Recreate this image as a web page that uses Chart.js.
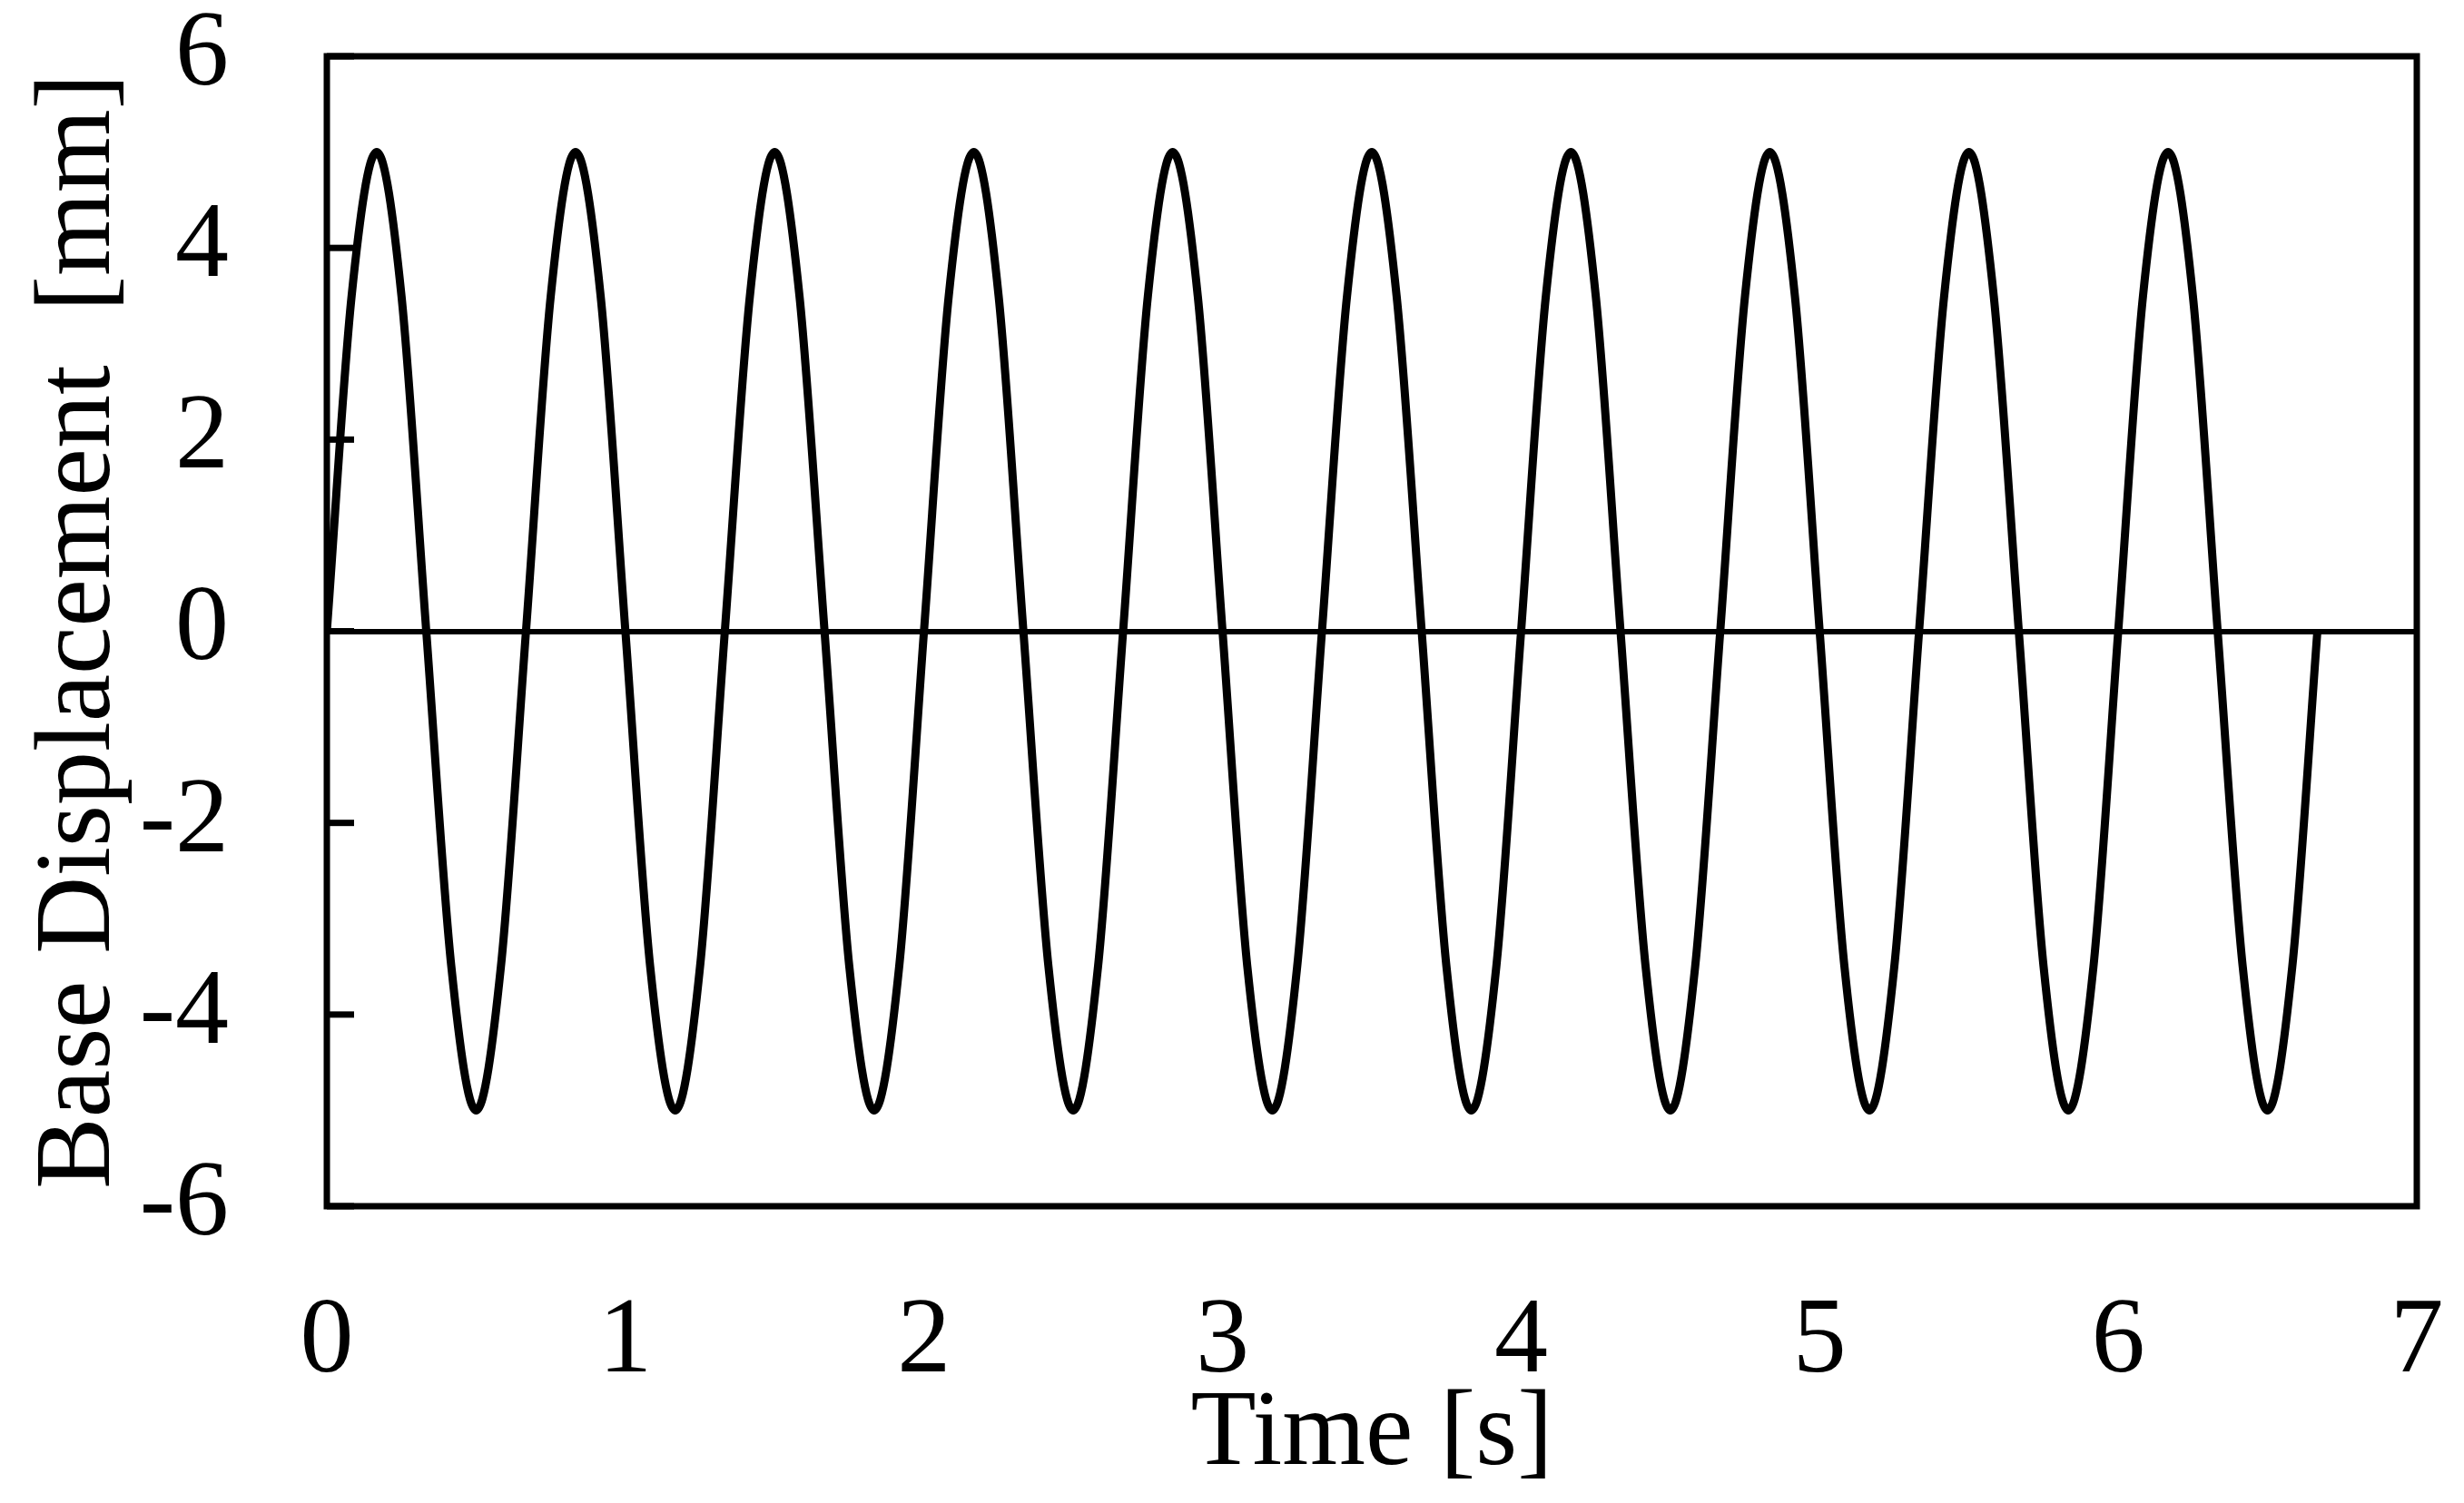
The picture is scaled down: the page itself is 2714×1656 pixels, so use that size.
<!DOCTYPE html>
<html>
<head>
<meta charset="utf-8">
<title>Base Displacement</title>
<script src="https://cdn.jsdelivr.net/npm/chart.js@4/dist/chart.umd.min.js"></script>
<style>
  html, body { margin: 0; padding: 0; background: #fff; }
  canvas { display: block; }
</style>
</head>
<body>
<canvas id="chart" width="2714" height="1656"></canvas>
<script>
// values: time [s] and displacement [mm]
const times = [
  0, 0.083, 0.167, 0.25, 0.333, 0.417, 0.5, 0.583,
  0.667, 0.75, 0.833, 0.917, 1.0, 1.083, 1.167, 1.25,
  1.333, 1.417, 1.5, 1.583, 1.667, 1.75, 1.833, 1.917,
  2.0, 2.083, 2.167, 2.25, 2.333, 2.417, 2.5, 2.583,
  2.667, 2.75, 2.833, 2.917, 3.0, 3.083, 3.167, 3.25,
  3.333, 3.417, 3.5, 3.583, 3.667, 3.75, 3.833, 3.917,
  4.0, 4.083, 4.167, 4.25, 4.333, 4.417, 4.5, 4.583,
  4.667, 4.75, 4.833, 4.917, 5.0, 5.083, 5.167, 5.25,
  5.333, 5.417, 5.5, 5.583, 5.667, 5.75, 5.833, 5.917,
  6.0, 6.083, 6.167, 6.25, 6.333, 6.417, 6.5, 6.583,
  6.667
];
const displacement = [
  0, 3.5, 5, 3.5, 0, -3.5, -5, -3.5,
  0, 3.5, 5, 3.5, 0, -3.5, -5, -3.5,
  0, 3.5, 5, 3.5, 0, -3.5, -5, -3.5,
  0, 3.5, 5, 3.5, 0, -3.5, -5, -3.5,
  0, 3.5, 5, 3.5, 0, -3.5, -5, -3.5,
  0, 3.5, 5, 3.5, 0, -3.5, -5, -3.5,
  0, 3.5, 5, 3.5, 0, -3.5, -5, -3.5,
  0, 3.5, 5, 3.5, 0, -3.5, -5, -3.5,
  0, 3.5, 5, 3.5, 0, -3.5, -5, -3.5,
  0, 3.5, 5, 3.5, 0, -3.5, -5, -3.5,
  0
];
const xTicks = [0, 1, 2, 3, 4, 5, 6, 7];
const yTicks = [-6, -4, -2, 0, 2, 4, 6];
const xTitle = 'Time [s]';
const yTitle = 'Base Displacement  [mm]';

const points = times.map((t, i) => ({ x: t, y: displacement[i] }));
const serif = "'Liberation Serif', 'Times New Roman', serif";

// box round the plot and short inward ticks on the left axis
const frame = {
  id: 'frame',
  afterDatasetsDraw(chart) {
    const { ctx, chartArea: a } = chart;
    const y = chart.scales.y;
    ctx.save();
    ctx.strokeStyle = '#000';
    ctx.lineWidth = 7;
    ctx.strokeRect(a.left, a.top, a.right - a.left, a.bottom - a.top);
    yTicks.forEach(v => {
      const py = y.getPixelForValue(v);
      ctx.beginPath();
      ctx.moveTo(a.left, py);
      ctx.lineTo(a.left + 30, py);
      ctx.stroke();
    });
    ctx.restore();
  }
};

new Chart(document.getElementById('chart'), {
  type: 'line',
  data: {
    datasets: [{
      data: points,
      borderColor: '#000',
      borderWidth: 9,
      pointRadius: 0,
      fill: false,
      cubicInterpolationMode: 'monotone'
    }]
  },
  options: {
    responsive: false,
    animation: false,
    devicePixelRatio: 1,
    layout: { padding: { top: 62, right: 52, bottom: 0, left: 0 } },
    plugins: { legend: { display: false }, tooltip: { enabled: false } },
    scales: {
      x: {
        type: 'linear',
        min: 0,
        max: 7,
        afterBuildTicks: s => { s.ticks = xTicks.map(v => ({ value: v })); },
        afterFit: s => { s.height = 327; s.paddingLeft = 0; s.paddingRight = 0; },
        grid: { display: false },
        border: { display: false },
        ticks: { color: '#000', padding: 72, font: { family: serif, size: 118 } },
        title: {
          display: true, text: xTitle, color: '#000',
          font: { family: serif, size: 118 }, padding: { top: 0, bottom: 3 }
        }
      },
      y: {
        min: -6,
        max: 6,
        afterBuildTicks: s => { s.ticks = yTicks.map(v => ({ value: v })); },
        afterFit: s => { s.width = 360; s.paddingTop = 0; s.paddingBottom = 0; },
        grid: {
          drawTicks: false,
          color: c => c.tick && c.tick.value === 0 ? '#000' : 'rgba(0,0,0,0)',
          lineWidth: 6
        },
        border: { display: false },
        ticks: { color: '#000', padding: 108, font: { family: serif, size: 118 } },
        title: {
          display: true, text: yTitle, color: '#000',
          font: { family: serif, size: 118 }, padding: 18
        }
      }
    }
  },
  plugins: [frame]
});
</script>
</body>
</html>
